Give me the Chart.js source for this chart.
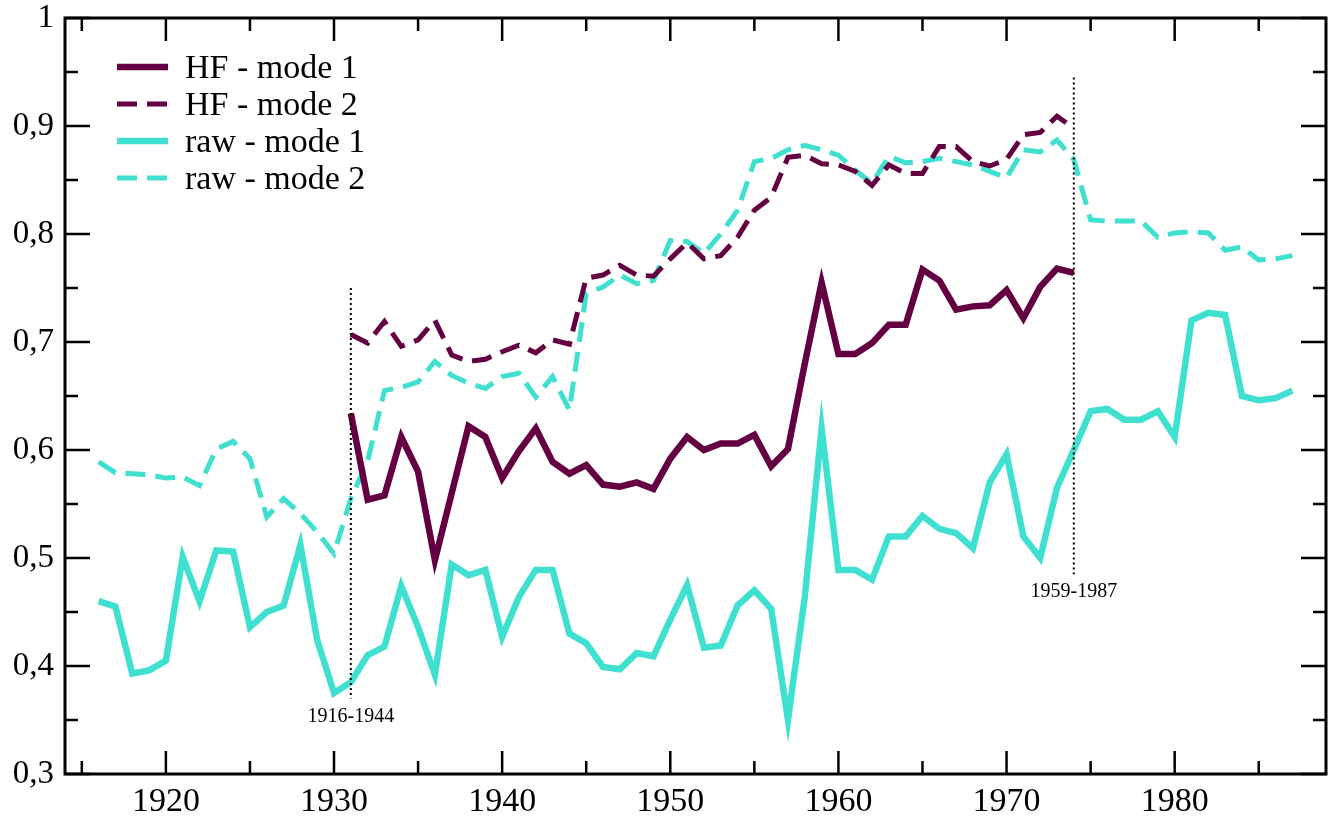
<!DOCTYPE html>
<html>
<head>
<meta charset="utf-8">
<script src="https://cdn.jsdelivr.net/npm/chart.js@4.4.0/dist/chart.umd.min.js"></script>
<style>
  html, body { margin: 0; padding: 0; background: #fff; }
  #wrap { width: 1334px; height: 821px; }
</style>
</head>
<body>
<div id="wrap"><canvas id="chart"></canvas></div>
<script>
// Data
const rawYears = [
  1916, 1917, 1918, 1919, 1920, 1921, 1922, 1923, 1924, 1925,
  1926, 1927, 1928, 1929, 1930, 1931, 1932, 1933, 1934, 1935,
  1936, 1937, 1938, 1939, 1940, 1941, 1942, 1943, 1944, 1945,
  1946, 1947, 1948, 1949, 1950, 1951, 1952, 1953, 1954, 1955,
  1956, 1957, 1958, 1959, 1960, 1961, 1962, 1963, 1964, 1965,
  1966, 1967, 1968, 1969, 1970, 1971, 1972, 1973, 1974, 1975,
  1976, 1977, 1978, 1979, 1980, 1981, 1982, 1983, 1984, 1985,
  1986, 1987
];
const rawMode1 = [
  0.460, 0.455, 0.393, 0.396, 0.405, 0.501, 0.460, 0.507, 0.506, 0.436,
  0.450, 0.456, 0.512, 0.424, 0.375, 0.385, 0.410, 0.418, 0.474, 0.436,
  0.392, 0.494, 0.484, 0.489, 0.427, 0.464, 0.489, 0.489, 0.430, 0.421,
  0.399, 0.397, 0.412, 0.409, 0.443, 0.475, 0.417, 0.419, 0.456, 0.470,
  0.453, 0.350, 0.464, 0.620, 0.489, 0.489, 0.480, 0.520, 0.520, 0.539,
  0.527, 0.523, 0.509, 0.570, 0.596, 0.520, 0.500, 0.565, 0.600, 0.636,
  0.638, 0.628, 0.628, 0.636, 0.612, 0.720, 0.727, 0.725, 0.650, 0.646,
  0.648, 0.655
];
const rawMode2 = [
  0.589, 0.579, 0.578, 0.577, 0.574, 0.575, 0.567, 0.601, 0.608, 0.592,
  0.538, 0.555, 0.541, 0.524, 0.504, 0.555, 0.590, 0.655, 0.658, 0.663,
  0.682, 0.669, 0.662, 0.657, 0.668, 0.671, 0.649, 0.668, 0.637, 0.745,
  0.751, 0.762, 0.754, 0.757, 0.794, 0.793, 0.782, 0.800, 0.822, 0.867,
  0.870, 0.878, 0.882, 0.878, 0.873, 0.859, 0.847, 0.872, 0.866, 0.867,
  0.870, 0.867, 0.864, 0.858, 0.852, 0.878, 0.876, 0.887, 0.869, 0.813,
  0.812, 0.812, 0.812, 0.797, 0.801, 0.802, 0.801, 0.785, 0.788, 0.776,
  0.777, 0.780
];

const hfYears = [
  1931, 1932, 1933, 1934, 1935, 1936, 1937, 1938, 1939, 1940,
  1941, 1942, 1943, 1944, 1945, 1946, 1947, 1948, 1949, 1950,
  1951, 1952, 1953, 1954, 1955, 1956, 1957, 1958, 1959, 1960,
  1961, 1962, 1963, 1964, 1965, 1966, 1967, 1968, 1969, 1970,
  1971, 1972, 1973, 1974
];
const hfMode1 = [
  0.634, 0.554, 0.558, 0.612, 0.580, 0.498, 0.560, 0.622, 0.612, 0.574,
  0.599, 0.620, 0.589, 0.578, 0.586, 0.568, 0.566, 0.570, 0.564, 0.592,
  0.612, 0.600, 0.606, 0.606, 0.614, 0.585, 0.601, 0.680, 0.755, 0.689,
  0.689, 0.699, 0.716, 0.716, 0.767, 0.757, 0.730, 0.733, 0.734, 0.748,
  0.722, 0.751, 0.768, 0.764
];
const hfMode2 = [
  0.707, 0.699, 0.719, 0.696, 0.702, 0.720, 0.688, 0.682, 0.684, 0.691,
  0.697, 0.690, 0.702, 0.698, 0.759, 0.762, 0.771, 0.762, 0.761, 0.777,
  0.792, 0.777, 0.780, 0.797, 0.822, 0.834, 0.871, 0.873, 0.865, 0.864,
  0.858, 0.845, 0.864, 0.856, 0.856, 0.881, 0.881, 0.867, 0.863, 0.869,
  0.892, 0.894, 0.909, 0.898
];

const seriesLabels = ['HF - mode 1', 'HF - mode 2', 'raw - mode 1', 'raw - mode 2'];

// axes
const xTickValues = [1920, 1930, 1940, 1950, 1960, 1970, 1980];
const xMinorTicks = [1915, 1925, 1935, 1945, 1955, 1965, 1975, 1985];
const yTickValues = [0.3, 0.4, 0.5, 0.6, 0.7, 0.8, 0.9, 1.0];
const yTickLabels = ['0,3', '0,4', '0,5', '0,6', '0,7', '0,8', '0,9', '1'];
const yMinorTicks = [0.35, 0.45, 0.55, 0.65, 0.75, 0.85, 0.95];

// period markers (dotted lines)
const markerYears = [1931, 1974];
const markerTops = [0.75, 0.945];
const markerBottoms = [0.37, 0.485];
const markerLabels = ['1916-1944', '1959-1987'];

const PURPLE = '#640042';
const TURQ = '#40E0D0';
const FONT = '"Liberation Serif", "DejaVu Serif", serif';

const toPoints = (xs, ys) => xs.map((x, i) => ({ x: x, y: ys[i] }));

// Plugins
const frameTicks = {
  id: 'frameTicks',
  afterDatasetsDraw(chart) {
    const { ctx, chartArea: a, scales: { x, y } } = chart;
    ctx.save();
    ctx.strokeStyle = '#000';
    ctx.lineWidth = 3;
    ctx.strokeRect(a.left, a.top, a.right - a.left, a.bottom - a.top);

    const vTick = (v, len) => {
      const px = x.getPixelForValue(v);
      ctx.beginPath();
      ctx.moveTo(px, a.bottom); ctx.lineTo(px, a.bottom - len);
      ctx.moveTo(px, a.top); ctx.lineTo(px, a.top + len);
      ctx.stroke();
    };
    const hTick = (v, len) => {
      const py = y.getPixelForValue(v);
      ctx.beginPath();
      ctx.moveTo(a.left, py); ctx.lineTo(a.left + len, py);
      ctx.moveTo(a.right, py); ctx.lineTo(a.right - len, py);
      ctx.stroke();
    };
    ctx.lineWidth = 2.5;
    xTickValues.forEach(v => vTick(v, 23));
    xMinorTicks.forEach(v => vTick(v, 13));
    yTickValues.forEach(v => hTick(v, 25));
    yMinorTicks.forEach(v => hTick(v, 13));

    // dotted period markers
    ctx.lineWidth = 2;
    ctx.setLineDash([2, 3]);
    markerYears.forEach((yr, i) => {
      const px = x.getPixelForValue(yr);
      ctx.beginPath();
      ctx.moveTo(px, y.getPixelForValue(markerTops[i]));
      ctx.lineTo(px, y.getPixelForValue(markerBottoms[i]));
      ctx.stroke();
    });
    ctx.setLineDash([]);
    ctx.fillStyle = '#000';
    ctx.font = '20px ' + FONT;
    ctx.textAlign = 'center';
    ctx.textBaseline = 'top';
    markerYears.forEach((yr, i) => {
      ctx.fillText(markerLabels[i], x.getPixelForValue(yr), y.getPixelForValue(markerBottoms[i]) + 8);
    });
    ctx.restore();
  }
};

const insideLegend = {
  id: 'insideLegend',
  afterDraw(chart) {
    const ctx = chart.ctx;
    ctx.save();
    ctx.font = '34px ' + FONT;
    ctx.textBaseline = 'middle';
    ctx.textAlign = 'left';
    chart.data.datasets.forEach((ds, i) => {
      const rowY = 67 + i * 37;
      ctx.strokeStyle = ds.borderColor;
      ctx.lineWidth = ds.borderDash.length ? 5 : 6.5;
      ctx.setLineDash(ds.borderDash);
      ctx.beginPath();
      ctx.moveTo(117, rowY);
      ctx.lineTo(168, rowY);
      ctx.stroke();
      ctx.setLineDash([]);
      ctx.fillStyle = '#000';
      ctx.fillText(ds.label, 185, rowY + 2);
    });
    ctx.restore();
  }
};

// Render
const lineStyle = (color, dashed) => ({
  borderColor: color,
  backgroundColor: color,
  borderWidth: dashed ? 5 : 6.5,
  borderDash: dashed ? [20, 10] : [],
  borderJoinStyle: 'miter',
  borderCapStyle: 'butt',
  pointRadius: 0,
  tension: 0,
  fill: false
});

new Chart(document.getElementById('chart'), {
  type: 'line',
  data: {
    datasets: [
      { label: seriesLabels[0], data: toPoints(hfYears, hfMode1), ...lineStyle(PURPLE, false) },
      { label: seriesLabels[1], data: toPoints(hfYears, hfMode2), ...lineStyle(PURPLE, true) },
      { label: seriesLabels[2], data: toPoints(rawYears, rawMode1), ...lineStyle(TURQ, false) },
      { label: seriesLabels[3], data: toPoints(rawYears, rawMode2), ...lineStyle(TURQ, true) }
    ]
  },
  options: {
    responsive: true,
    maintainAspectRatio: false,
    devicePixelRatio: 1,
    animation: false,
    layout: { padding: { top: 18, right: 8, left: 0, bottom: 0 } },
    plugins: { legend: { display: false }, tooltip: { enabled: false } },
    scales: {
      x: {
        type: 'linear',
        min: 1914,
        max: 1989,
        grid: { display: false, drawTicks: false },
        border: { display: false },
        afterBuildTicks: (s) => { s.ticks = xTickValues.map(v => ({ value: v })); },
        afterFit: (s) => { s.height = 47; s.paddingLeft = 0; s.paddingRight = 0; },
        ticks: {
          autoSkip: false,
          maxRotation: 0,
          padding: 8,
          color: '#000',
          font: { family: FONT, size: 34 },
          callback: (v) => String(v)
        }
      },
      y: {
        type: 'linear',
        min: 0.3,
        max: 1,
        grid: { display: false, drawTicks: false },
        border: { display: false },
        afterBuildTicks: (s) => { s.ticks = yTickValues.map(v => ({ value: v })); },
        afterFit: (s) => { s.width = 65; s.paddingTop = 0; s.paddingBottom = 0; },
        ticks: {
          autoSkip: false,
          padding: 11,
          color: '#000',
          font: { family: FONT, size: 33 },
          callback: (v, i) => yTickLabels[i]
        }
      }
    }
  },
  plugins: [frameTicks, insideLegend]
});
</script>
</body>
</html>
